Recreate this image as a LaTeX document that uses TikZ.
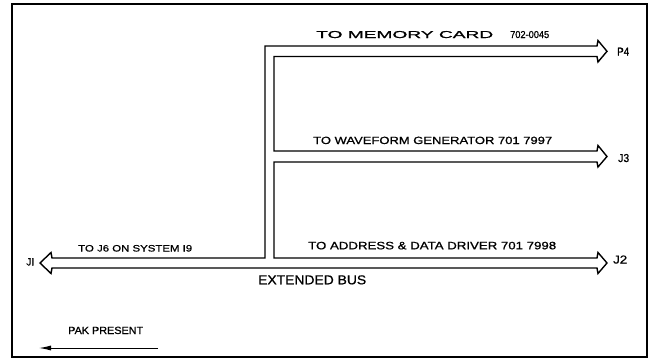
\documentclass[tikz,border=0pt]{standalone}
\usepackage{fontspec}
\newfontfamily\lblfont{Liberation Sans}[BoldFont={Liberation Sans}, BoldFeatures={FakeBold=0.9}]
\usetikzlibrary{arrows.meta}
\newcommand\fitlbl[3]{\resizebox{#1pt}{#2pt}{\lblfont\bfseries #3}}
\tikzset{
  lbl/.style={inner sep=0pt, anchor=base west, text=black},
  frame/.style={line width=1.5pt, draw=black},
  bus/.style={line width=1.4pt, draw=black, line join=miter},
  pakarrow/.style={line width=1pt, -{Latex[length=12pt,width=5pt]}}
}
\begin{document}
\begin{tikzpicture}[x=1pt,y=-1pt]
\useasboundingbox (0,0) rectangle (649,359);
\draw[frame] (12,4) rectangle (647,357);
% bus outline
\draw[bus] (40,263)
  -- (51,252.5) -- (52,258) -- (265,258) -- (265,46)
  -- (597,46) -- (598,40.5) -- (607,51.3) -- (598,62) -- (597,56.5)
  -- (274,56.5) -- (274,151)
  -- (597,151) -- (598,145.5) -- (607,156.5) -- (598,167) -- (597,162)
  -- (274,162) -- (274,258)
  -- (597,258) -- (598,252.5) -- (607,263) -- (598,273.5) -- (597,268)
  -- (52,268) -- (51,273.5) -- cycle;
% labels
\node[lbl] (mem) at (316,38) {\fitlbl{177}{7}{TO MEMORY CARD}};
\node[lbl] (memno) at (510,38) {\fitlbl{39}{7}{702-0045}};
\node[lbl] (wave) at (313,144) {\fitlbl{239}{7.3}{TO WAVEFORM GENERATOR 701 7997}};
\node[lbl] (addr) at (308,249.3) {\fitlbl{248}{7.5}{TO ADDRESS \& DATA DRIVER 701 7998}};
\node[lbl] (sys) at (78,251.5) {\fitlbl{114}{6.5}{TO J6 ON SYSTEM I9}};
\node[lbl] (ext) at (258,284.3) {\fitlbl{108}{9}{EXTENDED BUS}};
\node[lbl] (pak) at (68,334) {\fitlbl{75}{7.3}{PAK PRESENT}};
\node[lbl] (J1) at (26,265.5) {\fitlbl{8}{7.3}{JI}};
\node[lbl] (P4) at (617,55.5) {\fitlbl{12}{7.8}{P4}};
\node[lbl] (J3) at (618,162) {\fitlbl{11}{8}{J3}};
\node[lbl] (J2) at (613,263.5) {\fitlbl{14}{8}{J2}};
% PAK PRESENT arrow
\coordinate (pakA) at (158,348);
\coordinate (pakB) at (39,348);
\draw[pakarrow] (pakA) -- (pakB);
\end{tikzpicture}
\end{document}
